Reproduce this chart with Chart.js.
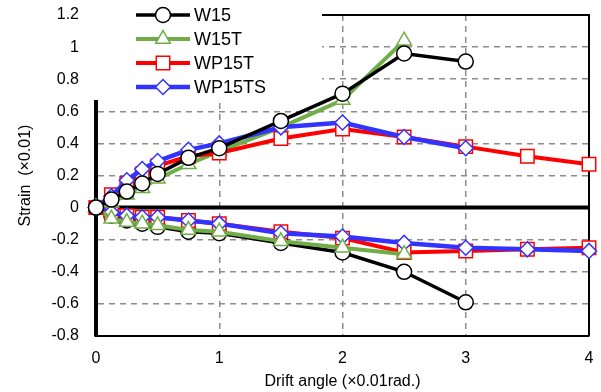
<!DOCTYPE html>
<html>
<head>
<meta charset="utf-8">
<script src="https://cdn.jsdelivr.net/npm/chart.js@4/dist/chart.umd.min.js"></script>
<style>
  html, body { margin: 0; padding: 0; background: #fff; }
  #wrap { width: 601px; height: 392px; }
</style>
</head>
<body>
<div id="wrap"><canvas id="chart"></canvas></div>
<script>
const drift = [0, 0.125, 0.25, 0.375, 0.5, 0.75, 1, 1.5, 2, 2.5, 3, 3.5, 4];

const w15Pos    = [0, 0.05, 0.10, 0.15, 0.21, 0.31, 0.37, 0.54, 0.71, 0.96, 0.91];
const w15Neg    = [0, -0.05, -0.08, -0.10, -0.12, -0.15, -0.16, -0.22, -0.28, -0.40, -0.59];
const w15tPos   = [0, 0.03, 0.08, 0.12, 0.18, 0.27, 0.35, 0.50, 0.67, 1.04];
const w15tNeg   = [0, -0.07, -0.09, -0.10, -0.11, -0.14, -0.15, -0.21, -0.25, -0.29];
const wp15tPos  = [0, 0.08, 0.15, 0.21, 0.26, 0.32, 0.34, 0.43, 0.49, 0.44, 0.38, 0.32, 0.27];
const wp15tNeg  = [0, -0.04, -0.05, -0.06, -0.06, -0.08, -0.10, -0.15, -0.19, -0.28, -0.27, -0.26, -0.25];
const wp15tsPos = [0, 0.07, 0.17, 0.24, 0.29, 0.36, 0.40, 0.50, 0.53, 0.44, 0.37];
const wp15tsNeg = [0, -0.03, -0.05, -0.06, -0.06, -0.08, -0.10, -0.16, -0.18, -0.22, -0.25, -0.26, -0.27];

const yTicks = [1.2, 1, 0.8, 0.6, 0.4, 0.2, 0, -0.2, -0.4, -0.6, -0.8];
const xTicks = [0, 1, 2, 3, 4];

const FONT = "'Liberation Sans', Arial, sans-serif";

const styles = {
    W15:    { color: "#000000", width: 3.5, pointStyle: "circle",   radius: 7.5 },
    W15T:   { color: "#70AD47", width: 4,   pointStyle: "triangle", radius: 8.5 },
    WP15T:  { color: "#FF0000", width: 4,   pointStyle: "rect",     radius: 9.5 },
    WP15TS: { color: "#3333FF", width: 4.5, pointStyle: "rectRot",  radius: 7.5 }
};

function toPoints(values) {
    return values.map((y, i) => ({ x: drift[i], y }));
}

function series(label, values) {
    const s = styles[label];
    return {
        label,
        data: toPoints(values),
        borderColor: s.color,
        borderWidth: s.width,
        pointStyle: s.pointStyle,
        pointRadius: s.radius,
        pointBackgroundColor: "#ffffff",
        pointBorderColor: s.color,
        pointBorderWidth: 1.5,
        tension: 0,
        clip: false
    };
}

// first in the list is drawn on top
const datasets = [
    series("W15", w15Pos),
    series("WP15TS", wp15tsPos),
    series("WP15T", wp15tPos),
    series("W15T", w15tPos),
    series("W15T", w15tNeg),
    series("WP15TS", wp15tsNeg),
    series("WP15T", wp15tNeg),
    series("W15", w15Neg)
];

const legendOrder = ["W15", "W15T", "WP15T", "WP15TS"];

const framePlugin = {
    id: "frame",
    beforeDatasetsDraw(chart) {
        const { ctx, chartArea: a, scales } = chart;
        const y0 = scales.y.getPixelForValue(0);
        ctx.save();
        ctx.strokeStyle = "#000";
        ctx.lineWidth = 4;
        ctx.beginPath();
        ctx.moveTo(a.left, y0);
        ctx.lineTo(a.right, y0);
        ctx.stroke();
        ctx.lineWidth = 2;
        ctx.beginPath();
        ctx.moveTo(a.left, a.top);
        ctx.lineTo(a.right, a.top);
        ctx.lineTo(a.right, a.bottom);
        ctx.stroke();
        ctx.restore();
    },
    afterDatasetsDraw(chart) {
        const { ctx } = chart;
        ctx.save();
        ctx.fillStyle = "#fff";
        ctx.fillRect(84, 0, 238, 100);
        ctx.font = "18px " + FONT;
        ctx.textBaseline = "middle";
        legendOrder.forEach((name, i) => {
            const s = styles[name];
            const y = 15 + i * 24;
            ctx.strokeStyle = s.color;
            ctx.lineWidth = s.width;
            ctx.beginPath();
            ctx.moveTo(136, y);
            ctx.lineTo(190, y);
            ctx.stroke();
            ctx.fillStyle = "#fff";
            ctx.lineWidth = 1.5;
            Chart.helpers.drawPoint(ctx, {
                pointStyle: s.pointStyle,
                radius: s.radius,
                borderWidth: 1.5,
                rotation: 0
            }, 163, y);
            ctx.fillStyle = "#000";
            ctx.fillText(name, 194, y + 1);
        });
        ctx.restore();
    }
};

new Chart(document.getElementById("chart").getContext("2d"), {
    type: "line",
    data: { datasets },
    options: {
        responsive: true,
        maintainAspectRatio: false,
        animation: false,
        layout: { padding: { top: 15, right: 12, left: 0, bottom: 0 } },
        scales: {
            x: {
                type: "linear",
                min: 0,
                max: 4,
                afterFit: scale => {
                    scale.height = 56;
                    scale.paddingLeft = 0;
                    scale.paddingRight = 0;
                },
                afterBuildTicks: scale => { scale.ticks = xTicks.map(v => ({ value: v })); },
                grid: { color: "#8c8c8c", lineWidth: 1.5, drawTicks: false },
                border: { color: "#000", width: 2, dash: [6, 5] },
                ticks: {
                    padding: 13,
                    color: "#000",
                    font: { family: FONT, size: 16 },
                    callback: v => String(v)
                },
                title: {
                    display: true,
                    text: "Drift angle (×0.01rad.)",
                    color: "#000",
                    font: { family: FONT, size: 16 },
                    padding: { top: 0, bottom: 1 }
                }
            },
            y: {
                min: -0.8,
                max: 1.2,
                afterFit: scale => {
                    scale.width = 96;
                    scale.paddingTop = 0;
                    scale.paddingBottom = 0;
                },
                afterBuildTicks: scale => { scale.ticks = yTicks.map(v => ({ value: v })); },
                grid: { color: "#8c8c8c", lineWidth: 1.5, drawTicks: false },
                border: { color: "#000", width: 4, dash: [6, 5] },
                ticks: {
                    padding: 17,
                    color: "#000",
                    font: { family: FONT, size: 16 },
                    callback: v => String(+v.toFixed(1))
                },
                title: {
                    display: true,
                    text: "Strain  (×0.01)",
                    color: "#000",
                    font: { family: FONT, size: 16 },
                    padding: { top: 16, bottom: 0 }
                }
            }
        },
        plugins: {
            legend: { display: false },
            tooltip: { enabled: false }
        }
    },
    plugins: [framePlugin]
});
</script>
</body>
</html>
